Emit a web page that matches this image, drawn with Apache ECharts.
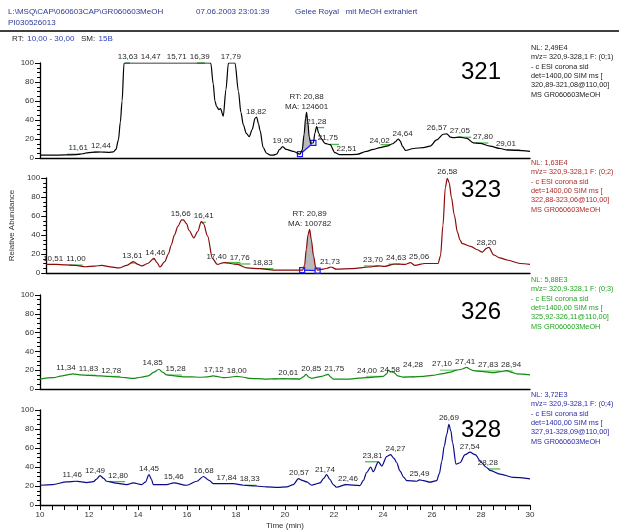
<!DOCTYPE html>
<html>
<head>
<meta charset="utf-8">
<script src="https://cdn.jsdelivr.net/npm/echarts/dist/echarts.min.js"></script>
<style>
html,body{margin:0;padding:0;background:#fff}
#chart{width:619px;height:531px}
</style>
</head>
<body>
<div id="chart"></div>
<script>
// Retention time (min) vs relative abundance (%) for the four SIM traces
const trace321 = [[10.0,3],[10.5,3],[11.0,3.2],[11.5,3.5],[11.75,4.5],[11.9,5.5],[12.1,6],[12.44,6.3],[12.8,6],[13.0,6.5],[13.1,9],[13.2,19],[13.28,38],[13.35,60],[13.43,100],[14.0,100],[15.0,100],[16.0,100],[16.97,100],[17.07,78],[17.14,60],[17.21,54],[17.3,51],[17.37,52],[17.48,44],[17.59,72],[17.69,100],[17.96,100],[18.1,70],[18.2,48],[18.3,35],[18.42,26],[18.54,22.5],[18.66,30],[18.78,42],[18.84,43],[18.92,36],[18.98,29],[19.11,11],[19.25,5],[19.4,3],[19.52,3],[19.66,4],[19.78,9],[19.9,12],[20.05,9],[20.34,7],[20.61,4],[20.7,8],[20.78,25],[20.84,42],[20.88,48],[20.93,38],[20.99,22],[21.05,15.5],[21.16,16],[21.22,26],[21.29,33],[21.38,26],[21.46,21],[21.63,15.5],[21.84,14],[22.04,5.6],[22.24,3.5],[22.51,3.5],[22.93,3.8],[23.33,7],[23.6,9],[23.88,11],[24.15,12.5],[24.4,15],[24.5,17],[24.62,20],[24.7,18],[24.8,12],[24.92,8],[25.24,10],[25.65,11],[25.92,12.5],[26.19,19],[26.46,25],[26.6,25.5],[26.75,22],[26.87,21.5],[27.14,22],[27.42,20.7],[27.69,16],[27.96,15.5],[28.37,12.5],[28.78,10],[29.05,8.5],[29.46,8],[30.0,7]];

const trace323 = [[10.0,9],[10.4,9],[10.8,8.5],[11.22,8],[11.63,6.6],[12.0,7.2],[12.3,8],[12.65,6.5],[13.0,5.3],[13.33,8],[13.6,12],[13.8,9],[13.95,7.5],[14.2,10],[14.45,15.4],[14.58,11],[14.7,6.3],[14.9,12],[15.05,20],[15.17,29.5],[15.3,40],[15.44,49],[15.6,56],[15.67,56],[15.8,52],[15.9,45],[16.1,37],[16.26,43.5],[16.41,54],[16.5,52],[16.67,39],[16.87,15.4],[17.07,9],[17.35,11],[17.9,9],[18.3,5.3],[18.84,4.6],[19.4,3],[20.34,3],[20.6,3],[20.68,8],[20.75,25],[20.82,40],[20.89,46],[20.96,35],[21.05,18],[21.14,6],[21.22,3],[21.43,4],[21.6,5],[21.77,6.3],[22.0,4],[22.65,4.6],[23.33,6.3],[23.74,7.4],[24.0,7],[24.42,9.5],[24.83,9],[25.06,11],[25.24,8],[25.65,10],[26.2,10],[26.3,18],[26.4,50],[26.5,90],[26.58,99.7],[26.66,95],[26.75,80],[26.87,61],[27.0,43],[27.1,35],[27.2,31],[27.55,28],[27.82,24.5],[28.03,22],[28.2,26],[28.3,27],[28.5,19],[28.75,16],[29.05,13.7],[29.6,10],[30.0,9]];

const trace326 = [[10.0,10.6],[10.54,12],[10.9,14],[11.22,15.6],[11.34,16],[11.63,15],[12.0,14.5],[12.45,14],[12.78,13.5],[13.13,13],[13.5,12],[13.8,11.2],[14.1,12.5],[14.42,14],[14.65,18],[14.85,21],[15.0,18],[15.17,15],[15.5,14],[15.85,13],[16.2,13],[16.53,12.5],[16.85,13],[17.07,14],[17.2,13.5],[17.48,12],[17.75,12.5],[18.03,13.5],[18.3,12.5],[18.57,11.2],[18.9,11],[19.25,10.6],[19.6,10.8],[19.93,11],[20.3,10.8],[20.6,10.6],[20.75,13],[20.86,15.6],[20.98,12.5],[21.09,11.2],[21.16,11.8],[21.5,13.5],[21.77,15.6],[21.85,13],[21.97,10.6],[22.3,10.5],[22.65,10.6],[23.0,11.5],[23.33,12],[23.7,12.8],[24.01,13.5],[24.15,16],[24.22,20],[24.3,18.5],[24.42,18],[24.6,14],[24.83,12.5],[25.2,13],[25.65,13.5],[26.0,14.5],[26.46,16.3],[26.75,18],[27.0,20],[27.2,21],[27.42,23],[27.55,21],[27.69,19.5],[28.1,18.5],[28.5,17.4],[28.8,18.5],[29.05,19.5],[29.3,17.5],[29.46,16],[30.0,15]];

const trace328 = [[10.0,20.8],[10.5,21.5],[11.09,24.3],[11.46,25],[11.63,24.6],[11.9,23.6],[12.18,24.6],[12.3,27],[12.45,31],[12.6,28],[12.72,25],[13.1,23],[13.54,21.5],[13.81,23.3],[14.15,21.5],[14.3,24],[14.45,32],[14.55,27],[14.62,21.5],[15.17,21.5],[15.46,23.3],[15.99,20.8],[16.4,25],[16.67,30],[16.9,26],[17.07,22.5],[17.5,22.5],[17.89,22.5],[18.3,20.8],[18.8,20],[19.25,19],[19.7,18.5],[20.07,19],[20.34,21.5],[20.55,27.8],[20.7,26],[20.89,24.3],[21.09,20.8],[21.16,21.5],[21.43,23.3],[21.58,28],[21.7,32],[21.83,27],[21.97,21.5],[22.1,18.7],[22.5,21.5],[23.06,20.5],[23.2,26],[23.33,34],[23.5,40],[23.6,35],[23.81,45.5],[23.95,41],[24.15,51],[24.31,53],[24.45,49],[24.56,44.5],[24.69,36],[24.85,29],[24.97,25.7],[25.38,25],[25.49,26.5],[25.65,25.7],[25.92,24],[26.19,25.7],[26.3,33],[26.4,46],[26.5,62],[26.6,74],[26.69,85],[26.77,78],[26.84,65.6],[26.98,43],[27.14,44.5],[27.35,53],[27.55,55.6],[27.76,53],[28.03,44.5],[28.2,40],[28.37,36.5],[28.78,32.5],[29.32,29],[30.0,27.5]];

// Peak apex retention times printed above each trace
const peaks321 = [11.61,12.44,13.63,14.47,15.71,16.39,17.79,18.82,19.90,21.28,21.75,22.51,24.02,24.64,26.57,27.05,27.80,29.01];
const peaks323 = [10.51,11.00,13.61,14.46,15.66,16.41,17.40,17.76,18.83,21.73,23.70,24.63,25.06,26.58,28.20];
const peaks326 = [11.34,11.83,12.78,14.85,15.28,17.12,18.00,20.61,20.85,21.75,24.00,24.28,24.58,27.10,27.41,27.83,28.94];
const peaks328 = [11.46,12.49,12.80,14.45,15.46,16.68,17.84,18.33,20.57,21.74,22.46,23.81,24.27,25.49,26.69,27.54,28.28];

// Detection baseline segments [start, end] (min)
const marks321 = [[11.1,11.63],[12.2,12.44],[13.47,13.67],[16.4,16.73],[21.28,21.6],[21.8,22.2],[23.9,24.3],[27.05,27.6],[27.8,28.3],[29.05,29.6]];
const marks323 = [[10.95,11.5],[13.5,13.7],[14.4,14.5],[16.4,16.6],[17.35,18.03],[17.76,18.44],[18.84,19.39],[23.13,23.74],[24.15,24.62]];
const marks326 = [[11.9,12.3],[12.86,13.27],[15.2,15.8],[19.5,20.6],[23.3,23.95],[24.8,25.3],[26.33,27.0],[27.8,28.8],[28.98,29.3]];
const marks328 = [[12.79,13.47],[18.37,18.84],[22.4,22.5],[23.27,23.81],[28.3,28.78]];

// Integrated peaks: [start t, start level, end t, end level], RT and area
const area321 = [20.61, 4, 21.16, 16];
const area323 = [20.58, 3, 21.22, 2.5];
const integ321 = {rt: 20.88, ma: 124601};
const integ323 = {rt: 20.89, ma: 100782};

// Per-trace scan information
const info321 = ['NL: 2,49E4','m/z= 320,9-328,1 F: (0;1)','- c ESI corona sid','det=1400,00 SIM ms [','320,89-321,08@110,00]','MS GR060603MeOH'];
const info323 = ['NL: 1,63E4','m/z= 320,9-328,1 F: (0;2)','- c ESI corona sid','det=1400,00 SIM ms [','322,88-323,06@110,00]','MS GR060603MeOH'];
const info326 = ['NL: 5,88E3','m/z= 320,9-328,1 F: (0;3)','- c ESI corona sid','det=1400,00 SIM ms [','325,92-326,11@110,00]','MS GR060603MeOH'];
const info328 = ['NL: 3,72E3','m/z= 320,9-328,1 F: (0;4)','- c ESI corona sid','det=1400,00 SIM ms [','327,91-328,09@110,00]','MS GR060603MeOH'];

const massLabels = ['321','323','326','328'];
const xTicks = [10,12,14,16,18,20,22,24,26,28,30];

const FONT = '"Liberation Sans", Arial, sans-serif';
const LABEL_FONT = '8px ' + FONT;
const LABEL_COLOR = '#2a2a2a';
const fmt = t => t.toFixed(2).replace('.', ',');

function valueAt(tr, t) {
  if (t <= tr[0][0]) return tr[0][1];
  for (let i = 1; i < tr.length; i++) {
    if (t <= tr[i][0]) {
      const a = tr[i-1], b = tr[i];
      return a[1] + (b[1]-a[1]) * (t-a[0]) / (b[0]-a[0]);
    }
  }
  return tr[tr.length-1][1];
}

const measureCtx = document.createElement('canvas').getContext('2d');
measureCtx.font = LABEL_FONT;

// Place peak labels above their apexes, pushing colliding neighbours apart
function layoutLabels(api, items) {
  const boxes = items.map(d => {
    const c = api.coord(d);
    return {x: c[0], y: c[1] - 2, w: measureCtx.measureText(fmt(d[0])).width};
  });
  for (let pass = 0; pass < 30; pass++) {
    let moved = false;
    for (let a = 0; a < boxes.length; a++) {
      for (let b = a + 1; b < boxes.length; b++) {
        const A = boxes[a], B = boxes[b];
        if (Math.abs(A.y - B.y) >= 9) continue;
        const need = (A.w + B.w) / 2 + 3;
        const dx = B.x - A.x;
        if (Math.abs(dx) < need) {
          const push = (need - Math.abs(dx)) / 2 + 0.01;
          const s = dx >= 0 ? 1 : -1;
          A.x -= s * push; B.x += s * push;
          moved = true;
        }
      }
    }
    if (!moved) break;
  }
  return boxes;
}

const panels = [
  {trace: trace321, peaks: peaks321, marks: marks321, area: area321, integ: integ321, info: info321,
   line: '#000000', text: '#222222', mark: '#4cbb4c', top: 63, height: 95},
  {trace: trace323, peaks: peaks323, marks: marks323, area: area323, integ: integ323, info: info323,
   line: '#8b0a0a', text: '#b02a2a', mark: '#4cbb4c', top: 178, height: 95},
  {trace: trace326, peaks: peaks326, marks: marks326, area: null, integ: null, info: info326,
   line: '#138a13', text: '#22a522', mark: '#7fd27f', top: 295, height: 94},
  {trace: trace328, peaks: peaks328, marks: marks328, area: null, integ: null, info: info328,
   line: '#0a0a8a', text: '#2b2ba8', mark: '#4cbb4c', top: 410, height: 96}
];

const grids = [], xAxes = [], yAxes = [], series = [], graphics = [];

panels.forEach((p, i) => {
  const last = i === panels.length - 1;
  const tr = p.trace;
  grids.push({left: 40, width: 490, top: p.top, height: p.height});
  xAxes.push({
    type: 'value', gridIndex: i, min: 10, max: 30, interval: 0.5,
    axisLine: {show: true, onZero: false, lineStyle: {color: '#000', width: 1.3}},
    axisTick: {show: last, length: 5, lineStyle: {color: '#000', width: 1}},
    axisLabel: {show: last, fontSize: 8, fontFamily: FONT, color: '#333', margin: 6,
      formatter: v => xTicks.indexOf(v) >= 0 ? String(v) : ''},
    splitLine: {show: false},
    name: last ? 'Time (min)' : '', nameLocation: 'middle', nameGap: 17,
    nameTextStyle: {fontSize: 8, fontFamily: FONT, color: '#333'}
  });
  yAxes.push({
    type: 'value', gridIndex: i, min: 0, max: 100, interval: 20,
    axisLine: {show: true, lineStyle: {color: '#000', width: 1.3}},
    axisTick: {show: true, length: 5, lineStyle: {color: '#000'}},
    minorTick: {show: true, splitNumber: 4, length: 3, lineStyle: {color: '#000'}},
    axisLabel: {fontSize: 8, fontFamily: FONT, color: '#333', margin: 6},
    splitLine: {show: false},
    name: i === 1 ? 'Relative Abundance' : '', nameLocation: 'middle', nameGap: 22,
    nameTextStyle: {fontSize: 8, fontFamily: FONT, color: '#333'}
  });

  // integrated peak area (grey) with its blue baseline
  if (p.area) {
    series.push({
      type: 'custom', xAxisIndex: i, yAxisIndex: i, z: 1, silent: true,
      data: [p.area],
      renderItem(params, api) {
        const t0 = api.value(0), v0 = api.value(1), t1 = api.value(2), v1 = api.value(3);
        const pts = [api.coord([t0, valueAt(tr, t0)])];
        tr.forEach(q => { if (q[0] > t0 && q[0] < t1) pts.push(api.coord(q)); });
        pts.push(api.coord([t1, valueAt(tr, t1)]));
        const a = api.coord([t0, v0]), b = api.coord([t1, v1]);
        pts.push(b, a);
        const sq = c => ({type: 'rect', shape: {x: c[0]-2.5, y: c[1]-2.5, width: 5, height: 5},
          style: {fill: '#fff', stroke: '#1a1aff', lineWidth: 1.2}});
        return {type: 'group', children: [
          {type: 'polygon', shape: {points: pts}, style: {fill: '#b9b9b9'}},
          {type: 'line', shape: {x1: a[0], y1: a[1], x2: b[0], y2: b[1]}, style: {stroke: '#1a1aff', lineWidth: 1.2}},
          sq(a), sq(b)
        ]};
      }
    });
  }

  // the trace itself
  series.push({
    type: 'line', xAxisIndex: i, yAxisIndex: i, data: tr, showSymbol: false,
    smooth: 0.3, smoothMonotone: 'x', z: 3, silent: true,
    lineStyle: {color: p.line, width: 1.2}
  });

  // detection baselines
  series.push({
    type: 'custom', xAxisIndex: i, yAxisIndex: i, z: 2, silent: true,
    data: p.marks,
    renderItem(params, api) {
      const t0 = api.value(0), t1 = api.value(1);
      const lv = Math.max(valueAt(tr, t0), valueAt(tr, t1));
      const a = api.coord([t0, lv]), b = api.coord([t1, lv]);
      return {type: 'line', shape: {x1: a[0], y1: a[1], x2: b[0], y2: b[1]},
        style: {stroke: p.mark, lineWidth: 1.3}};
    }
  });

  // peak retention-time labels
  const peakPts = p.peaks.map(t => [t, valueAt(tr, t)]);
  series.push({
    type: 'custom', xAxisIndex: i, yAxisIndex: i, z: 4, silent: true, clip: false,
    data: peakPts,
    renderItem(params, api) {
      const ctx = params.context;
      if (!ctx.boxes) ctx.boxes = layoutLabels(api, peakPts);
      const b = ctx.boxes[params.dataIndex];
      return {type: 'text', x: b.x, y: b.y,
        style: {text: fmt(api.value(0)), font: LABEL_FONT, fill: LABEL_COLOR, align: 'center', verticalAlign: 'bottom'}};
    }
  });

  // retention time and area of the integrated peak
  if (p.integ) {
    const integ = p.integ;
    series.push({
      type: 'custom', xAxisIndex: i, yAxisIndex: i, z: 4, silent: true, clip: false,
      data: [[integ.rt, valueAt(tr, integ.rt)]],
      renderItem(params, api) {
        const c = api.coord([api.value(0), api.value(1)]);
        return {type: 'group', children: [
          {type: 'text', x: c[0], y: c[1] - 12,
            style: {text: 'RT: ' + fmt(integ.rt), font: LABEL_FONT, fill: LABEL_COLOR, align: 'center', verticalAlign: 'bottom'}},
          {type: 'text', x: c[0], y: c[1] - 2,
            style: {text: 'MA: ' + integ.ma, font: LABEL_FONT, fill: LABEL_COLOR, align: 'center', verticalAlign: 'bottom'}}
        ]};
      }
    });
  }

  // scan info block and mass label
  graphics.push({
    type: 'text', left: 531, top: p.top - 20,
    style: {text: p.info.join('\n'), font: '7.3px ' + FONT, fill: p.text, lineHeight: 9.4}
  });
  graphics.push({
    type: 'text', x: 481, y: p.top + [9, 12, 17, 20][i],
    style: {text: massLabels[i], font: '24px ' + FONT, fill: '#000', align: 'center', verticalAlign: 'middle'}
  });
});

// page header
const headBlue = '#2b3b93';
graphics.push(
  {type: 'text', x: 8, y: 12, style: {text: 'L:\\MSQ\\CAP\\060603CAP\\GR060603MeOH', font: '8px ' + FONT, fill: headBlue, verticalAlign: 'middle'}},
  {type: 'text', x: 8, y: 23, style: {text: 'PI030526013', font: '8px ' + FONT, fill: headBlue, verticalAlign: 'middle'}},
  {type: 'text', x: 196, y: 12, style: {text: '07.06.2003 23:01:39', font: '8px ' + FONT, fill: headBlue, verticalAlign: 'middle'}},
  {type: 'text', x: 295, y: 12, style: {text: 'Gelee Royal   mit MeOH extrahiert', font: '8px ' + FONT, fill: headBlue, verticalAlign: 'middle'}},
  {type: 'line', shape: {x1: 0, y1: 31, x2: 619, y2: 31}, style: {stroke: '#000', lineWidth: 1.5}},
  {type: 'text', x: 12, y: 39, style: {
    text: '{k|RT:} {v|10,00 - 30,00}  {k|SM:} {v|15B}', verticalAlign: 'middle',
    rich: {k: {font: '8px ' + FONT, fill: '#222'}, v: {font: '8px ' + FONT, fill: '#2b3bb8'}}}}
);

const chart = echarts.init(document.getElementById('chart'), null, {renderer: 'canvas'});
chart.setOption({
  animation: false,
  backgroundColor: '#fff',
  grid: grids, xAxis: xAxes, yAxis: yAxes, series: series,
  graphic: graphics
});
</script>
</body>
</html>
